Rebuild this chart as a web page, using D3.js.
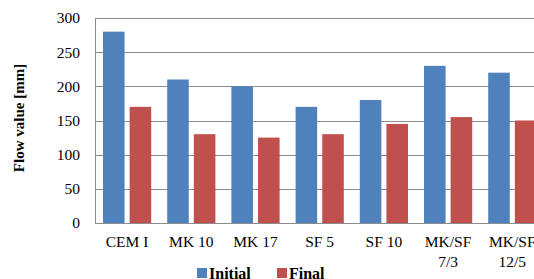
<!DOCTYPE html>
<html>
<head>
<meta charset="utf-8">
<script src="https://cdn.jsdelivr.net/npm/d3@7"></script>
<style>
  body { margin: 0; background: #fff; }
  svg { display: block; }
  svg text { font-family: "Liberation Serif", "Times New Roman", Tinos, "DejaVu Serif", serif; }
</style>
</head>
<body>
<svg id="chart" width="534" height="279"></svg>
<script>
// data
const categories = ["CEM I", "MK 10", "MK 17", "SF 5", "SF 10", "MK/SF\n7/3", "MK/SF\n12/5"];
const seriesNames = ["Initial", "Final"];
const initialValues = [280, 210, 200, 170, 180, 230, 220];
const finalValues = [170, 130, 125, 130, 145, 155, 150];
const yTicks = [0, 50, 100, 150, 200, 250, 300];
const colors = ["#4F81BD", "#C0504D"];

const svg = d3.select("#chart");
const plotLeft = 95, plotTop = 18, plotBottom = 223;
const groupStep = 64.2;
const serif = "'Liberation Serif', 'Times New Roman', 'DejaVu Serif', serif";

let x = d3.scaleBand()
    .domain(categories)
    .range([plotLeft, plotLeft + groupStep * categories.length])
    .padding(0);
let xInner = d3.scaleBand()
    .domain(seriesNames)
    .range([8, groupStep - 8])
    .paddingInner(0.19)
    .paddingOuter(0);
let y = d3.scaleLinear().domain([0, 300]).range([plotBottom, plotTop]);

// gridlines
svg.append("g")
    .selectAll("line")
    .data(yTicks)
    .enter()
    .append("line")
    .attr("x1", plotLeft)
    .attr("x2", 534)
    .attr("y1", d => Math.round(y(d)) + 0.5)
    .attr("y2", d => Math.round(y(d)) + 0.5)
    .attr("stroke", "#8c8c8c")
    .attr("stroke-width", 1);

// left axis line
svg.append("line")
    .attr("x1", plotLeft + 0.5).attr("x2", plotLeft + 0.5)
    .attr("y1", Math.round(y(300)) + 0.5).attr("y2", Math.round(y(0)) + 0.5)
    .attr("stroke", "#8c8c8c");

// bars
let rows = categories.map((c, i) => ({cat: c, vals: [initialValues[i], finalValues[i]]}));
let groups = svg.append("g")
    .selectAll("g")
    .data(rows)
    .enter()
    .append("g")
    .attr("transform", d => "translate(" + x(d.cat) + ",0)");
groups.selectAll("rect")
    .data(d => d.vals.map((v, j) => ({name: seriesNames[j], v: v, j: j})))
    .enter()
    .append("rect")
    .attr("x", d => xInner(d.name))
    .attr("width", xInner.bandwidth())
    .attr("y", d => y(d.v))
    .attr("height", d => y(0) - y(d.v))
    .attr("fill", d => colors[d.j]);

// y tick labels
svg.append("g")
    .selectAll("text")
    .data(yTicks)
    .enter()
    .append("text")
    .attr("x", 80)
    .attr("y", d => y(d))
    .attr("dy", "0.35em")
    .attr("text-anchor", "end")
    .attr("font-family", serif)
    .style("font-size", "15.5px")
    .text(d => d);

// x labels
let xl = svg.append("g")
    .selectAll("text")
    .data(categories)
    .enter()
    .append("text")
    .attr("x", d => x(d) + groupStep / 2)
    .attr("y", 247)
    .attr("dy", "0.35em")
    .attr("text-anchor", "middle")
    .attr("font-family", serif)
    .style("font-size", "15.5px");
xl.selectAll("tspan")
    .data(d => d.split("\n").map(t => ({t: t, c: d})))
    .enter()
    .append("tspan")
    .attr("x", d => x(d.c) + groupStep / 2)
    .attr("dy", (d, i) => i === 0 ? 0 : 20)
    .text(d => d.t);

// y axis title
svg.append("text")
    .attr("transform", "translate(24,118) rotate(-90)")
    .attr("text-anchor", "middle")
    .attr("font-family", serif)
    .style("font-size", "15px")
    .style("font-weight", "bold")
    .text("Flow value [mm]");

// legend
let legendX = [197, 277];
let lg = svg.append("g")
    .selectAll("g")
    .data(seriesNames)
    .enter()
    .append("g")
    .attr("transform", (d, i) => "translate(" + legendX[i] + ",268)");
lg.append("rect")
    .attr("width", 10)
    .attr("height", 10)
    .attr("fill", (d, i) => colors[i]);
lg.append("text")
    .attr("x", 12)
    .attr("y", 5)
    .attr("dy", "0.35em")
    .attr("font-family", serif)
    .style("font-size", "16px")
    .style("font-weight", "bold")
    .text(d => d);
</script>
</body>
</html>
